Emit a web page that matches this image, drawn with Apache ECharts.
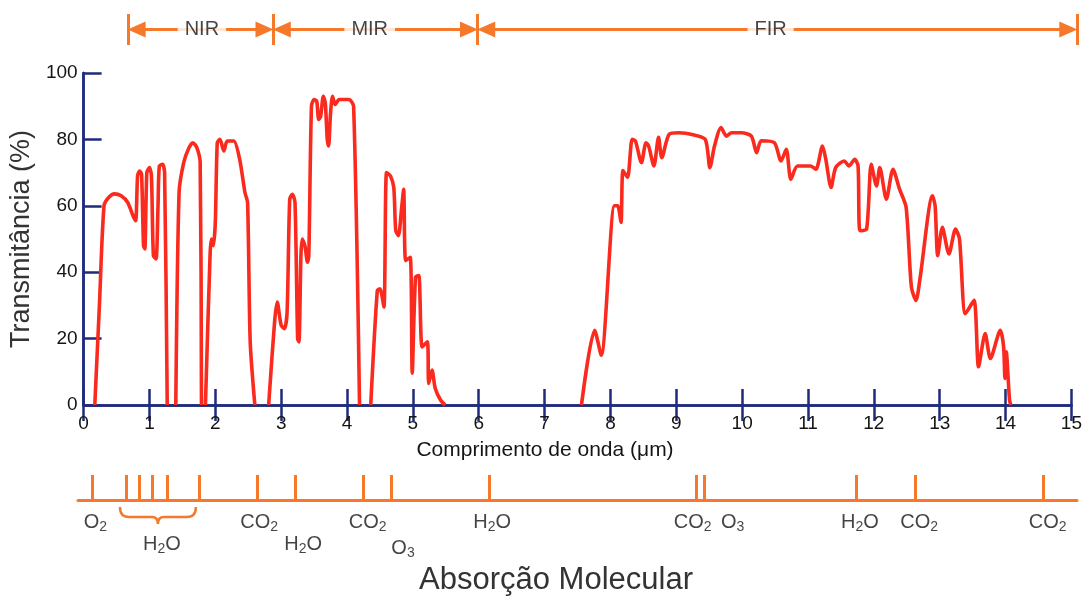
<!DOCTYPE html>
<html>
<head>
<meta charset="utf-8">
<script src="https://cdn.jsdelivr.net/npm/echarts/dist/echarts.min.js"></script>
<style>
html,body{margin:0;padding:0;background:#fff;}
#chart{width:1085px;height:607px;}
</style>
</head>
<body>
<div id="chart"></div>
<script>
// ---------- DATA ----------
// Wavelength (µm) and transmittance (%) of the atmospheric window curve; null = gap (0 %, hidden)
const wavelength = [
  0.17,0.24,0.31,0.38,0.47,0.57,0.67,0.75,0.79,0.82,0.85,0.88,0.91,0.93,0.96,1.00,1.03,1.06,1.10,1.13,1.15,1.20,1.23,1.27,
  1.33,
  1.40,1.45,1.52,1.60,1.66,1.72,1.77,1.79,
  1.82,
  1.85,1.92,1.94,1.97,2.00,2.03,2.07,2.13,2.18,2.28,2.37,2.45,2.49,2.53,2.60,
  2.70,
  2.81,2.90,2.94,3.00,3.05,3.09,3.13,3.17,3.21,3.25,3.27,3.30,3.32,3.36,3.40,3.42,3.46,3.50,3.54,3.57,3.60,3.64,3.67,3.70,3.72,3.75,3.78,3.82,3.88,4.03,4.10,4.19,
  4.27,
  4.36,4.46,4.50,4.56,4.60,4.66,4.71,4.74,4.78,4.83,4.86,4.89,4.96,4.99,5.04,5.09,5.14,5.22,5.24,5.29,5.34,5.42,5.49,
  6.50,
  7.56,7.76,7.86,8.06,8.11,8.16,8.19,8.26,8.33,8.38,8.47,8.54,8.58,8.66,8.73,8.78,8.89,9.04,9.24,9.44,9.51,9.58,9.68,9.76,9.84,9.99,
  10.14,10.22,10.29,10.49,10.59,10.67,10.74,10.84,11.04,11.12,11.22,11.27,11.35,11.42,11.55,11.62,11.71,11.76,11.79,11.89,11.96,
  12.04,12.09,12.19,12.29,12.39,12.49,12.57,12.64,12.70,12.89,12.93,12.97,13.04,13.14,13.24,13.30,13.39,13.52,13.59,13.69,13.77,
  13.92,13.97,13.99,14.01,14.06,14.08
];
const transmittance = [
  0,30,60,62.5,63.6,63,61,57,55.5,69,70.5,69.5,48,47,70,71.5,69,45,44,60,72,72.5,70,0,
  null,
  0,64,73,77.5,79,77.5,73,0,
  null,
  0,45,50,48,55,79,80,76.5,79.5,79.5,74,64,61,19,0,
  null,
  0,25,31,24,23,28,62,63.5,61,20,19,45,50,48,43,45,90,92,91.5,86,87,93,91,80,78,88,93,90.5,92,92,90,0,
  null,
  0,34.5,35,29.5,70,69,65.5,52.5,51,59.5,65,43.5,44.5,9.6,38.5,39,17.5,19,6.5,10.5,5,1.5,0,
  null,
  0,22.5,15,60,60,55,70.6,68.6,80,79.5,73,79,78,72,80.6,74.5,81.5,82,81.5,80,71.5,78,83.6,81,82,82,
  81,76,79.6,79,73.5,77,68,72,72,71,78,74,65.5,71.5,73.5,72,74,72,52.5,53,72.5,
  66,71.5,62,71,65,59.5,35.5,31.5,38,63,60,45,53.5,45.5,53,50,27.5,31.5,11.5,21.5,14,
  22.5,17.5,8,16,1.5,0
];
const xTicks = [0,1,2,3,4,5,6,7,8,9,10,11,12,13,14,15];
const yTicks = [0,20,40,60,80,100];

// Spectral regions (boundaries in µm) and their names
const regionBounds = [0.75, 2.93, 6, 15];
const regionNames = ['NIR', 'MIR', 'FIR'];
const regionLabelAt = [1.86, 4.38, 10.4];

// Molecular absorption bands (µm)
const absorptionBands = [0.21, 0.73, 0.92, 1.11, 1.34, 1.82, 2.69, 3.26, 4.28, 4.71, 6.18, 9.29, 9.41, 11.69, 12.57, 14.49];
const moleculeNames = ['O2', 'H2O', 'CO2', 'H2O', 'CO2', 'O3', 'H2O', 'CO2', 'O3', 'H2O', 'CO2', 'CO2'];
const moleculeAt    = [0.26, 1.26, 2.72, 3.38, 4.35, 4.88, 6.22, 9.23, 9.83, 11.74, 12.63, 14.56];
const waterGroup = [0.63, 1.77];

// ---------- LAYOUT / STYLE ----------
const NAVY = '#1f2b7c';
const RED = '#fa2a1e';
const ORANGE = '#f5782b';
const TXT = '#151515';
const FONT = 'Liberation Sans, Arial, sans-serif';
const moleculeRow = [1, 2, 1, 2, 1, 2, 1, 1, 1, 1, 1, 1];
const ARROW_INSET = 0.13; // µm, so the arrow tip touches the boundary bar

function chem(s) {
  return s.replace(/(\d+)/g, '{s|$1}').replace(/(^|\})([^{}]+)(?=\{|$)/g, '$1{n|$2}');
}

const curve = wavelength.map((x, i) => [x, transmittance[i]]);

const chart = echarts.init(document.getElementById('chart'), null, {renderer: 'canvas'});

const option = {
  animation: false,
  backgroundColor: '#fff',
  title: {
    text: 'Absorção Molecular',
    left: 551, textAlign: 'center', top: 560,
    textStyle: {fontFamily: FONT, fontSize: 31, fontWeight: 'normal', color: '#333'}
  },
  grid: [
    {left: 78, right: 8, top: 73, height: 332},
    {left: 78, right: 8, top: 14, height: 31},
    {left: 78, right: 8, top: 475, height: 25}
  ],
  xAxis: [
    {
      gridIndex: 0, type: 'value', min: xTicks[0], max: xTicks[xTicks.length - 1], interval: 1,
      name: 'Comprimento de onda (μm)', nameLocation: 'middle', nameGap: 35,
      nameTextStyle: {fontFamily: FONT, fontSize: 21, color: TXT, padding: [0, 65, 0, 0]},
      axisLine: {show: true, lineStyle: {color: NAVY, width: 2.5}},
      axisTick: {show: true, inside: true, length: 16, lineStyle: {color: NAVY, width: 2.5}},
      axisLabel: {fontFamily: FONT, fontSize: 19, color: TXT, margin: 9},
      splitLine: {show: false}
    },
    {
      gridIndex: 0, type: 'value', position: 'top', min: 0, max: 15, interval: 1,
      axisLine: {show: true, lineStyle: {color: NAVY, width: 2.5}},
      axisTick: {show: true, inside: true, length: 16, lineStyle: {color: NAVY, width: 2.5}},
      axisLabel: {show: false}, splitLine: {show: false}
    },
    {gridIndex: 1, type: 'value', min: 0, max: 15, show: false},
    {
      gridIndex: 2, type: 'value', min: 0, max: 15,
      axisLine: {show: true, onZero: false, lineStyle: {color: ORANGE, width: 3}},
      axisTick: {show: false}, axisLabel: {show: false}, splitLine: {show: false}
    }
  ],
  yAxis: [
    {
      gridIndex: 0, type: 'value', min: yTicks[0], max: yTicks[yTicks.length - 1], interval: 20,
      name: 'Transmitância (%)', nameLocation: 'middle', nameRotate: 90, nameGap: 45,
      nameTextStyle: {fontFamily: FONT, fontSize: 27, color: '#333'},
      axisLine: {show: true, lineStyle: {color: NAVY, width: 2.5}},
      axisTick: {show: true, inside: true, length: 18, lineStyle: {color: NAVY, width: 2.5}},
      axisLabel: {fontFamily: FONT, fontSize: 19, color: TXT, margin: 6},
      splitLine: {show: false}
    },
    {
      gridIndex: 0, type: 'value', position: 'right', min: 0, max: 100,
      axisLine: {show: true, lineStyle: {color: NAVY, width: 2.5}},
      axisTick: {show: false}, axisLabel: {show: false}, splitLine: {show: false}
    },
    {gridIndex: 1, type: 'value', min: 0, max: 1, show: false},
    {gridIndex: 2, type: 'value', min: 0, max: 1, show: false}
  ],
  series: [
    {
      type: 'line', xAxisIndex: 0, yAxisIndex: 0, data: curve,
      smooth: 0.25, showSymbol: false, connectNulls: false, clip: true,
      lineStyle: {color: RED, width: 3.6}, z: 5
    },
    // region boundary bars
    {
      type: 'line', xAxisIndex: 2, yAxisIndex: 2, data: [], silent: true,
      markLine: {
        silent: true, animation: false, symbol: 'none',
        label: {show: false},
        lineStyle: {color: ORANGE, width: 3, type: 'solid'},
        data: regionBounds.map(b => ({xAxis: b}))
      }
    },
    // region arrows
    {
      type: 'line', xAxisIndex: 2, yAxisIndex: 2, data: [], silent: true,
      markLine: {
        silent: true, animation: false,
        symbol: ['triangle', 'triangle'], symbolSize: [16, 18],
        label: {show: false},
        lineStyle: {color: ORANGE, width: 3, type: 'solid'},
        itemStyle: {color: ORANGE},
        data: regionNames.map((n, i) => [
          {coord: [regionBounds[i] + ARROW_INSET, 0.5]},
          {coord: [regionBounds[i + 1] - ARROW_INSET, 0.5]}
        ])
      }
    },
    {
      type: 'scatter', xAxisIndex: 2, yAxisIndex: 2, symbolSize: 0, z: 10,
      data: regionNames.map((n, i) => ({value: [regionLabelAt[i], 0.5], name: n})),
      label: {
        show: true, position: 'inside', formatter: p => p.name,
        fontFamily: FONT, fontSize: 20, color: TXT,
        backgroundColor: '#fff', padding: [3, 7]
      }
    },
    // molecular absorption ticks
    {
      type: 'line', xAxisIndex: 3, yAxisIndex: 3, data: [], silent: true,
      markLine: {
        silent: true, animation: false, symbol: 'none',
        label: {show: false},
        lineStyle: {color: ORANGE, width: 3, type: 'solid'},
        data: absorptionBands.map(b => ({xAxis: b}))
      }
    },
    {
      type: 'scatter', xAxisIndex: 3, yAxisIndex: 3, symbolSize: 0, z: 10,
      data: moleculeNames.map((n, i) => ({
        value: [moleculeAt[i], 0], name: n,
        label: {offset: [0, moleculeRow[i] === 1 ? 22 : (n === 'O3' ? 48 : 44)]}
      })),
      label: {
        show: true, position: 'inside',
        formatter: p => chem(p.name),
        rich: {
          n: {fontFamily: FONT, fontSize: 20, color: TXT, lineHeight: 23},
          s: {fontFamily: FONT, fontSize: 14, color: TXT, padding: [11, 0, 0, 0]}
        }
      }
    },
    {
      type: 'custom', xAxisIndex: 3, yAxisIndex: 3, z: 10,
      data: [waterGroup],
      renderItem: function (params, api) {
        const a = api.coord([api.value(0), 0]);
        const b = api.coord([api.value(1), 0]);
        const x1 = a[0], x2 = b[0], y = a[1], xc = (x1 + x2) / 2;
        const d = 'M' + x1 + ' ' + (y + 7) +
          ' Q' + x1 + ' ' + (y + 17) + ' ' + (x1 + 9) + ' ' + (y + 17) +
          ' L' + (xc - 6) + ' ' + (y + 17) +
          ' Q' + xc + ' ' + (y + 17) + ' ' + xc + ' ' + (y + 24) +
          ' Q' + xc + ' ' + (y + 17) + ' ' + (xc + 6) + ' ' + (y + 17) +
          ' L' + (x2 - 9) + ' ' + (y + 17) +
          ' Q' + x2 + ' ' + (y + 17) + ' ' + x2 + ' ' + (y + 7);
        return {type: 'path', shape: {pathData: d}, style: {stroke: ORANGE, fill: null, lineWidth: 2.5}};
      }
    }
  ]
};
chart.setOption(option);
</script>
</body>
</html>
